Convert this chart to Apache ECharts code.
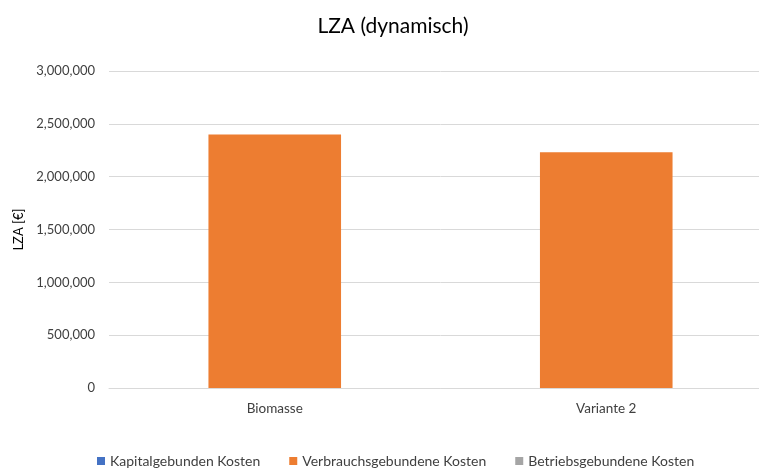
<!DOCTYPE html>
<html>
<head>
<meta charset="utf-8">
<script src="https://cdn.jsdelivr.net/npm/echarts@6/dist/echarts.min.js"></script>
<style>html,body{margin:0;padding:0;background:#fff;overflow:hidden}#c{width:772px;height:468px}</style>
</head>
<body>
<div id="c"></div>
<script>
const categories = ['Biomasse', 'Variante 2'];
const kapitalgebunden = [0, 0];
const verbrauchsgebunden = [2400000, 2230000];
const betriebsgebunden = [0, 0];
const seriesNames = ['Kapitalgebunden Kosten', 'Verbrauchsgebundene Kosten', 'Betriebsgebundene Kosten'];

const font = 'Lato, "Liberation Sans", sans-serif';
const chart = echarts.init(document.getElementById('c'), null, {renderer: 'canvas'});
chart.setOption({
  animation: false,
  color: ['#4472C4', '#ED7D31', '#A5A5A5'],
  title: {
    text: 'LZA (dynamisch)',
    left: 388, top: 11, textAlign: 'center',
    textStyle: {fontFamily: font, fontSize: 21, fontWeight: 'normal', color: '#000'}
  },
  legend: {
    data: seriesNames,
    left: 92, top: 449,
    icon: 'rect', itemWidth: 8, itemHeight: 8, itemGap: 29,
    textStyle: {fontFamily: font, fontSize: 14, color: '#404040'}
  },
  grid: {left: 109, top: 71, right: 0, height: 317, containLabel: false},
  xAxis: {
    type: 'category', data: categories,
    axisLine: {lineStyle: {color: '#d9d9d9'}},
    axisTick: {show: false},
    axisLabel: {fontFamily: font, fontSize: 13.5, color: '#404040', margin: 14}
  },
  yAxis: {
    type: 'value', min: 0, max: 3000000, interval: 500000,
    name: 'LZA [€]', nameLocation: 'middle', nameGap: 80,
    nameTextStyle: {fontFamily: font, fontSize: 13, color: '#000'},
    axisLine: {show: false}, axisTick: {show: false},
    splitLine: {lineStyle: {color: '#d9d9d9'}},
    axisLabel: {fontFamily: font, fontSize: 13, color: '#404040', margin: 14,
      formatter: v => v.toLocaleString('en-US')}
  },
  series: [
    {name: seriesNames[0], type: 'bar', stack: 's', barWidth: '40%', data: kapitalgebunden},
    {name: seriesNames[1], type: 'bar', stack: 's', barWidth: '40%', data: verbrauchsgebunden},
    {name: seriesNames[2], type: 'bar', stack: 's', barWidth: '40%', data: betriebsgebunden}
  ]
});
</script>
</body>
</html>
